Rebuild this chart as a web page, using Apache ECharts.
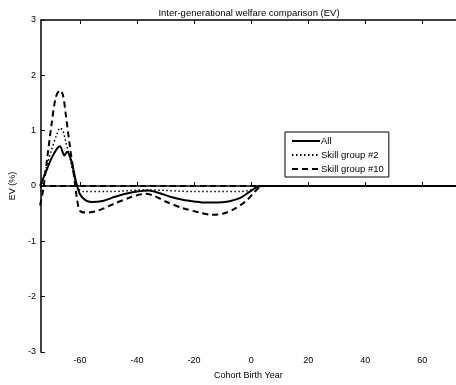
<!DOCTYPE html>
<html><head><meta charset="utf-8">
<script src="https://cdn.jsdelivr.net/npm/echarts@6/dist/echarts.min.js"></script>
<style>html,body{margin:0;padding:0;background:#fff}#c{width:456px;height:385px}</style>
</head><body><div id="c"></div>
<script>
const titleText = "Inter-generational welfare comparison (EV)";
const xName = "Cohort Birth Year";
const yName = "EV (%)";
const xTicks = [-60, -40, -20, 0, 20, 40, 60];
const seriesNames = ["All", "Skill group #2", "Skill group #10"];

const allX = [-74, -72, -70, -68, -67, -66, -65.5, -64.5, -63, -61.5, -60, -58, -56, -52, -48, -44, -40, -36, -32, -28, -24, -20, -16, -12, -8, -4, -1, 2, 4, 72];
const allY = [0.0, 0.25, 0.5, 0.68, 0.72, 0.6, 0.55, 0.62, 0.45, 0.1, -0.15, -0.26, -0.29, -0.27, -0.2, -0.14, -0.1, -0.08, -0.13, -0.2, -0.25, -0.28, -0.3, -0.3, -0.28, -0.22, -0.12, -0.02, 0, 0];

const sg2X = [-74, -72, -70, -68, -67, -66, -65, -63.5, -62, -60.5, -59, -50, -36, -20, -4, 0, 2, 4, 72];
const sg2Y = [-0.1, 0.3, 0.65, 0.95, 1.05, 1.0, 0.8, 0.5, 0.15, -0.05, -0.1, -0.1, -0.07, -0.1, -0.1, -0.07, -0.02, 0, 0];

const sg10X = [-74, -73, -71.5, -70, -68.5, -67, -66, -65, -63.5, -62, -61, -60, -58, -54, -48, -42, -37, -34, -30, -24, -18, -14, -10, -6, -2, 1, 3, 5, 72];
const sg10Y = [-0.35, -0.1, 0.5, 1.1, 1.6, 1.73, 1.65, 1.3, 0.7, 0.15, -0.25, -0.45, -0.48, -0.45, -0.32, -0.2, -0.14, -0.18, -0.28, -0.4, -0.48, -0.52, -0.5, -0.42, -0.28, -0.12, -0.02, 0, 0];

const zeroX = [-74, 72];
const zeroY = [0, 0];

const zip = (xs, ys) => xs.map((x, i) => [x, ys[i]]);
const font = "Liberation Sans, Arial, sans-serif";

const chart = echarts.init(document.getElementById('c'));
chart.setOption({
  animation: false,
  backgroundColor: '#fff',
  title: { text: titleText, left: 244, top: 3, textAlign: 'center',
    textStyle: { fontFamily: font, fontSize: 9.5, fontWeight: 'normal', color: '#000' } },
  grid: { left: 40, top: 20, right: 0, bottom: 31, show: false },
  legend: {
    orient: 'vertical', left: 285, top: 132, itemWidth: 28, itemHeight: 9, itemGap: 4,
    padding: [4, 5, 3, 6], borderColor: '#000', borderWidth: 1, backgroundColor: '#fff',
    textStyle: { fontFamily: font, fontSize: 9.5, color: '#000', padding: [0, 0, 0, -4] },
    itemStyle: { opacity: 0 },
    data: seriesNames
  },
  xAxis: [{
    type: 'value', min: -73.7, max: 71.8, name: xName, nameLocation: 'middle', nameGap: 19,
    nameTextStyle: { fontFamily: font, fontSize: 9, color: '#000' },
    axisLine: { show: true, lineStyle: { color: '#000', width: 1.5 } },
    axisTick: { show: true, inside: true, length: 4, customValues: xTicks, lineStyle: { color: '#000' } },
    axisLabel: { customValues: xTicks, fontFamily: font, fontSize: 9, color: '#000', margin: 4 },
    splitLine: { show: false }
  }, {
    type: 'value', position: 'top', min: -73.7, max: 71.8,
    axisLine: { show: true, lineStyle: { color: '#000', width: 1.5 } },
    axisTick: { show: true, inside: true, length: 4, customValues: xTicks, lineStyle: { color: '#000' } },
    axisLabel: { show: false }, splitLine: { show: false }
  }],
  yAxis: {
    type: 'value', min: -3, max: 3, interval: 1, name: yName, nameLocation: 'middle', nameGap: 12,
    nameTextStyle: { fontFamily: font, fontSize: 9, color: '#000' },
    axisLine: { show: true, onZero: false, lineStyle: { color: '#000', width: 1.5 } },
    axisTick: { show: true, inside: true, length: 4, lineStyle: { color: '#000' } },
    axisLabel: { fontFamily: font, fontSize: 9, color: '#000', margin: 5 },
    splitLine: { show: false }
  },
  series: [
    { name: seriesNames[0], type: 'line', data: zip(allX, allY), smooth: 0.3, symbol: 'none',
      lineStyle: { color: '#000', width: 2, type: 'solid' }, itemStyle: { color: '#000' } },
    { name: seriesNames[1], type: 'line', data: zip(sg2X, sg2Y), smooth: 0.3, symbol: 'none',
      lineStyle: { color: '#000', width: 1.5, type: [1.5, 2.5] }, itemStyle: { color: '#000' } },
    { name: seriesNames[2], type: 'line', data: zip(sg10X, sg10Y), smooth: 0.3, symbol: 'none',
      lineStyle: { color: '#000', width: 2, type: [6, 4] }, itemStyle: { color: '#000' } },
    { name: 'zero', type: 'line', data: zip(zeroX, zeroY), symbol: 'none',
      lineStyle: { color: '#000', width: 1.8, type: [6, 4] }, itemStyle: { color: '#000' } }
  ]
});
</script></body></html>
